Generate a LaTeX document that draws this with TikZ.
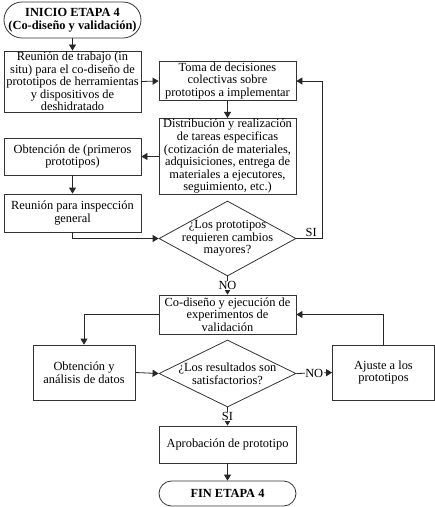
\documentclass[tikz,border=0pt]{standalone}
\usepackage{fontspec}
\setmainfont{Liberation Serif}
\newfontfamily\tnr{Liberation Serif}
\usetikzlibrary{arrows.meta,shapes.geometric}
\begin{document}
\begin{tikzpicture}[x=1pt,y=-1pt,
  txt/.style={font=\tnr\fontsize{12.4}{12.6}\selectfont, align=center},
  box/.style={txt, draw=black!80, line width=0.8pt, minimum width=137pt, inner sep=1pt},
  smallbox/.style={box, minimum width=102pt, minimum height=55pt},
  term/.style={txt, draw=black!80, line width=0.8pt, minimum width=137pt, inner sep=1pt},
  dia/.style={diamond, draw=black!80, line width=0.8pt, minimum width=137pt, inner sep=0pt},
  arr/.style={draw=black!85, line width=0.8pt, -{Triangle[width=7pt,length=6pt]}},
  lbl/.style={txt, fill=white, inner sep=0.5pt}
]
\path[use as bounding box] (0,0) rectangle (435,507);

\node[term, minimum height=36pt, rounded corners=18pt] (start) at (72.5,20)
  {\textbf{INICIO ETAPA 4}\\\textbf{(Co-diseño y validación)}};
\node[box, minimum height=59pt] (b1) at (72.5,81.5)
  {Reunión de trabajo (in\\situ) para el co-diseño de\\prototipos de herramientas\\y dispositivos de\\deshidratado};
\node[box, minimum height=38pt] (b2) at (227.5,81)
  {Toma de decisiones\\colectivas sobre\\prototipos a implementar};
\node[box, minimum height=75pt] (b3) at (227.5,156.5)
  {Distribución y realización\\de tareas especificas\\(cotización de materiales,\\adquisiciones, entrega de\\materiales a ejecutores,\\seguimiento, etc.)};
\node[box, minimum height=37pt] (b4) at (72.5,156.5)
  {Obtención de (primeros\\prototipos)};
\node[box, minimum height=38pt] (b5) at (72.5,213)
  {Reunión para inspección\\general};
\node[dia, minimum height=75pt] (d1) at (227.5,238.5) {};
\node[txt] (d1t) at (d1.center) {¿Los prototipos\\requieren cambios\\mayores?};
\node[box, minimum height=39pt] (b6) at (227.5,314.5)
  {Co-diseño y ejecución de\\experimentos de\\validación};
\node[smallbox] (b7) at (84,372.5) {Obtención y\\análisis de datos};
\node[dia, minimum height=67pt] (d2) at (227.5,373.5) {};
\node[txt] (d2t) at (d2.center) {¿Los resultados son\\satisfactorios?};
\node[smallbox] (b8) at (383.5,372.5) {Ajuste a los\\prototipos};
\node[box, minimum height=37pt] (b9) at (227.5,444.5) {Aprobación de prototipo};
\node[term, minimum height=25pt, rounded corners=12.5pt] (end) at (227.5,493.5)
  {\textbf{FIN ETAPA 4}};

\coordinate (r1) at (322,238.5);

\draw[arr] (start.south) -- (b1.north);
\draw[arr] (b1.east) -- (b2.west);
\draw[arr] (b2.south) -- (b3.north);
\draw[arr] (b3.west) -- (b4.east);
\draw[arr] (b4.south) -- (b5.north);
\draw[arr] (b5.south) |- (d1.west);
\draw[arr] (d1.east) -- node[txt, above, inner sep=1pt, xshift=2pt]{SI} (r1) |- (b2.east);
\draw[arr] (d1.south) -- node[lbl]{NO} (b6.north);
\draw[arr] (b6.west) -| (b7.north);
\draw[arr] (b7.east) -- (d2.west);
\draw[arr] (d2.east) -- node[lbl]{NO} (b8.west);
\draw[arr] (b8.north) |- (b6.east);
\draw[arr] (d2.south) -- node[lbl]{SI} (b9.north);
\draw[arr] (b9.south) -- (end.north);
\end{tikzpicture}
\end{document}
